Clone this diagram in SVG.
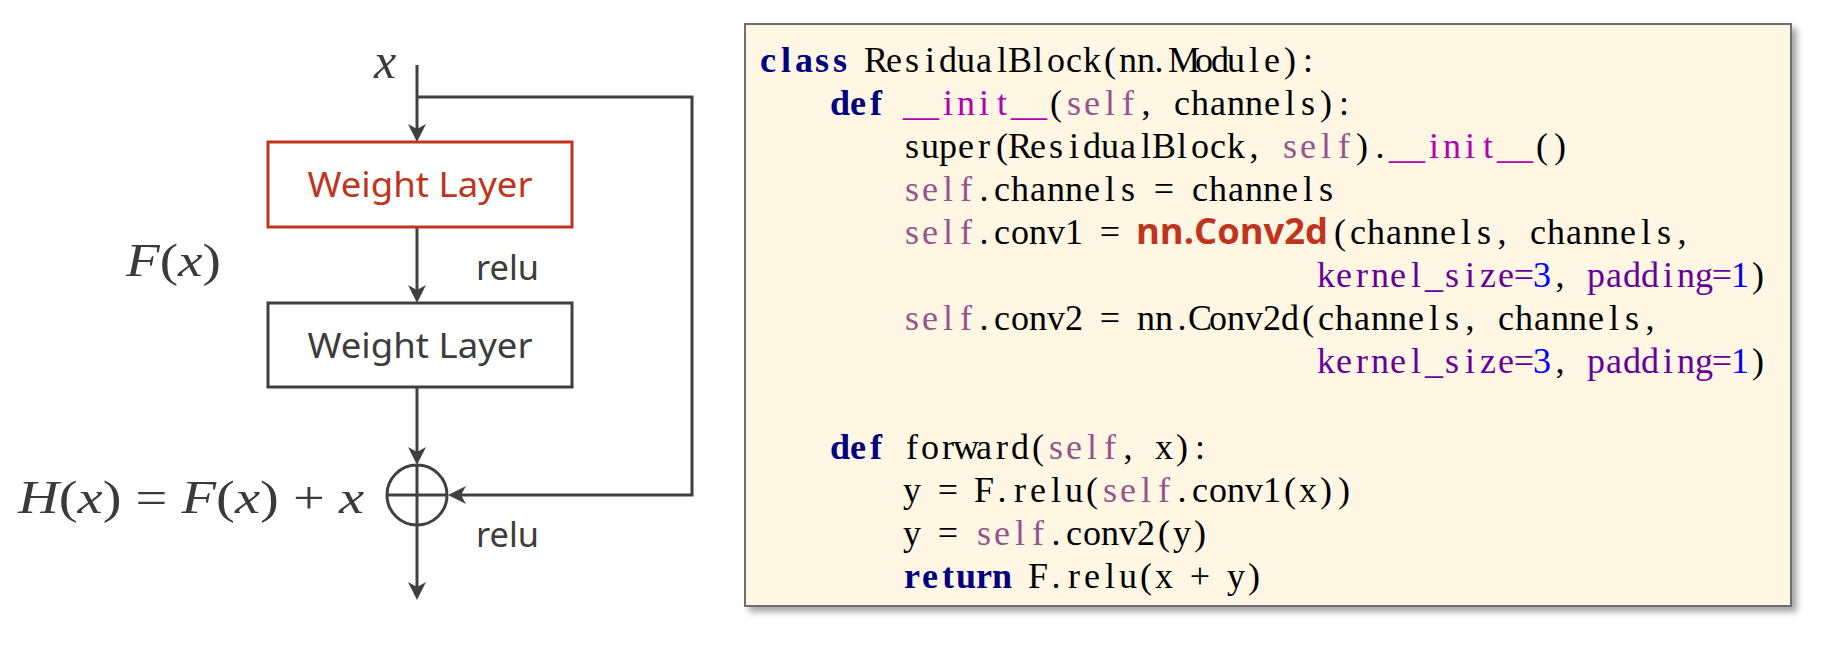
<svg xmlns="http://www.w3.org/2000/svg" width="1828" height="646" viewBox="0 0 1828 646">
<style>
.ln{fill:none;stroke:#404040;stroke-width:3}
.box{fill:#ffffff;stroke-width:3}
.lbl{font-family:"Noto Sans","Open Sans",sans-serif;font-size:34px;fill:#3c3c3c}
.m{font-family:"Liberation Serif",serif;font-size:46px;fill:#3a3a3a}
.i{font-style:italic}
.c{font-family:"Liberation Serif",serif;font-size:36px;white-space:pre;fill:#000000;text-anchor:middle}
.kw{font-weight:bold;fill:#000080}
.sf{fill:#94558D}
.mg{fill:#B200B2}
.ka{fill:#660099}
.nu{fill:#0000FF}
.hl{font-family:"Open Sans","Noto Sans",sans-serif;font-weight:bold;font-size:36px;fill:#C0341D}
</style>
<defs>
<marker id="ah" markerUnits="userSpaceOnUse" markerWidth="22" markerHeight="22" viewBox="-20 -11 22 22" refX="-10" refY="0" orient="auto">
<path d="M0,0 L-18,-9 L-13,0 L-18,9 Z" fill="#404040"/>
</marker>
<filter id="sh" x="-5%" y="-5%" width="110%" height="110%">
<feDropShadow dx="5" dy="5" stdDeviation="3" flood-color="#000000" flood-opacity="0.35"/>
</filter>
</defs>
<rect width="1828" height="646" fill="#ffffff"/>

<g id="connectors">
<path class="ln" d="M417,65 V132" marker-end="url(#ah)"/>
<path class="ln" d="M417,97 H692 V495 H458" marker-end="url(#ah)"/>
<path class="ln" d="M417,227 V293" marker-end="url(#ah)"/>
<path class="ln" d="M417,387 V455" marker-end="url(#ah)"/>
<path class="ln" d="M417,525 V590" marker-end="url(#ah)"/>
</g>

<g id="label-x"><text class="m i" x="385" y="78" text-anchor="middle" style="font-size:50px">x</text></g>

<g id="weight-layer-1">
<rect class="box" x="268" y="142" width="304" height="85" stroke="#C0341D"/>
<text class="lbl" x="420" y="197" text-anchor="middle" style="fill:#C0341D" textLength="225" lengthAdjust="spacingAndGlyphs">Weight Layer</text>
</g>

<g id="label-relu-1"><text class="lbl" x="476" y="280" textLength="63" lengthAdjust="spacingAndGlyphs">relu</text></g>

<g id="label-fx"><text class="m" x="126" y="276" textLength="95" lengthAdjust="spacingAndGlyphs"><tspan class="i">F</tspan>(<tspan class="i">x</tspan>)</text></g>

<g id="weight-layer-2">
<rect class="box" x="268" y="303" width="304" height="84" stroke="#404040"/>
<text class="lbl" x="420" y="358" text-anchor="middle" textLength="225" lengthAdjust="spacingAndGlyphs">Weight Layer</text>
</g>

<g id="sum">
<circle cx="417" cy="495" r="30" fill="none" stroke="#404040" stroke-width="3"/>
<path class="ln" d="M387,495 H447 M417,465 V525"/>
</g>

<g id="label-hx"><text class="m" x="18" y="513" textLength="346" lengthAdjust="spacingAndGlyphs"><tspan class="i">H</tspan>(<tspan class="i">x</tspan>) = <tspan class="i">F</tspan>(<tspan class="i">x</tspan>) + <tspan class="i">x</tspan></text></g>

<g id="label-relu-2"><text class="lbl" x="476" y="547" textLength="63" lengthAdjust="spacingAndGlyphs">relu</text></g>

<g id="code">
<rect x="745" y="24" width="1046" height="582" fill="#FFF6E3" stroke="#6E6E6E" stroke-width="2" filter="url(#sh)"/>
<text class="c" y="72"><tspan class="kw" x="768 786 804 822 840">class</tspan><tspan x="876 894 912 930 948 966 984 1002 1020 1038 1056 1074 1092 1110 1128 1146 1159 1184 1204 1220 1236 1254 1272 1290 1308">ResidualBlock(nn.Module):</tspan></text>
<text class="c" y="115"><tspan class="kw" x="840 858 876">def</tspan><tspan class="mg" x="912 930 948 966 984 1002 1020 1038">__init__</tspan><tspan x="1056">(</tspan><tspan class="sf" x="1074 1092 1110 1128">self</tspan><tspan x="1146 1164 1182 1200 1218 1236 1254 1272 1290 1308 1326 1344">, channels):</tspan></text>
<text class="c" y="158"><tspan x="912 930 948 966 984 1002 1020 1038 1056 1074 1092 1110 1128 1146 1164 1182 1200 1218 1236 1254">super(ResidualBlock,</tspan><tspan class="sf" x="1290 1308 1326 1344">self</tspan><tspan x="1362 1380">).</tspan><tspan class="mg" x="1398 1416 1434 1452 1470 1488 1506 1524">__init__</tspan><tspan x="1542 1560">()</tspan></text>
<text class="c" y="201"><tspan class="sf" x="912 930 948 966">self</tspan><tspan x="984 1002 1020 1038 1056 1074 1092 1110 1128 1146 1164 1182 1200 1218 1236 1254 1272 1290 1308 1326">.channels = channels</tspan></text>
<text class="c" y="244"><tspan class="sf" x="912 930 948 966">self</tspan><tspan x="984 1002 1020 1038 1056 1074 1092 1110">.conv1 =</tspan></text>
<text class="hl" x="1136" y="244" textLength="192" lengthAdjust="spacingAndGlyphs">nn.Conv2d</text>
<text class="c" y="244"><tspan x="1340 1358 1376 1394 1412 1430 1448 1466 1484 1502 1520 1538 1556 1574 1592 1610 1628 1646 1664 1682">(channels, channels,</tspan></text>
<text class="c" y="287"><tspan class="ka" x="1326 1344 1362 1380 1398 1416 1434 1452 1470 1488 1506 1524">kernel_size=</tspan><tspan class="nu" x="1542">3</tspan><tspan x="1560">,</tspan><tspan class="ka" x="1596 1614 1632 1650 1668 1686 1704 1722">padding=</tspan><tspan class="nu" x="1740">1</tspan><tspan x="1758">)</tspan></text>
<text class="c" y="330"><tspan class="sf" x="912 930 948 966">self</tspan><tspan x="984 1002 1020 1038 1056 1074 1092 1110 1128 1146 1164 1182 1200 1218 1236 1254 1272 1290 1308 1326 1344 1362 1380 1398 1416 1434 1452 1470 1488 1506 1524 1542 1560 1578 1596 1614 1632 1650">.conv2 = nn.Conv2d(channels, channels,</tspan></text>
<text class="c" y="373"><tspan class="ka" x="1326 1344 1362 1380 1398 1416 1434 1452 1470 1488 1506 1524">kernel_size=</tspan><tspan class="nu" x="1542">3</tspan><tspan x="1560">,</tspan><tspan class="ka" x="1596 1614 1632 1650 1668 1686 1704 1722">padding=</tspan><tspan class="nu" x="1740">1</tspan><tspan x="1758">)</tspan></text>
<text class="c" y="459"><tspan class="kw" x="840 858 876">def</tspan><tspan x="912 930 948 966 984 1002 1020 1038">forward(</tspan><tspan class="sf" x="1056 1074 1092 1110">self</tspan><tspan x="1128 1146 1164 1182 1200">, x):</tspan></text>
<text class="c" y="502"><tspan x="912 930 948 966 984 1002 1020 1038 1056 1074 1092">y = F.relu(</tspan><tspan class="sf" x="1110 1128 1146 1164">self</tspan><tspan x="1182 1200 1218 1236 1254 1272 1290 1308 1326 1344">.conv1(x))</tspan></text>
<text class="c" y="545"><tspan x="912 930 948">y =</tspan><tspan class="sf" x="984 1002 1020 1038">self</tspan><tspan x="1056 1074 1092 1110 1128 1146 1164 1182 1200">.conv2(y)</tspan></text>
<text class="c" y="588"><tspan class="kw" x="912 930 948 966 984 1002">return</tspan><tspan x="1038 1056 1074 1092 1110 1128 1146 1164 1182 1200 1218 1236 1254">F.relu(x + y)</tspan></text>
</g>
</svg>
